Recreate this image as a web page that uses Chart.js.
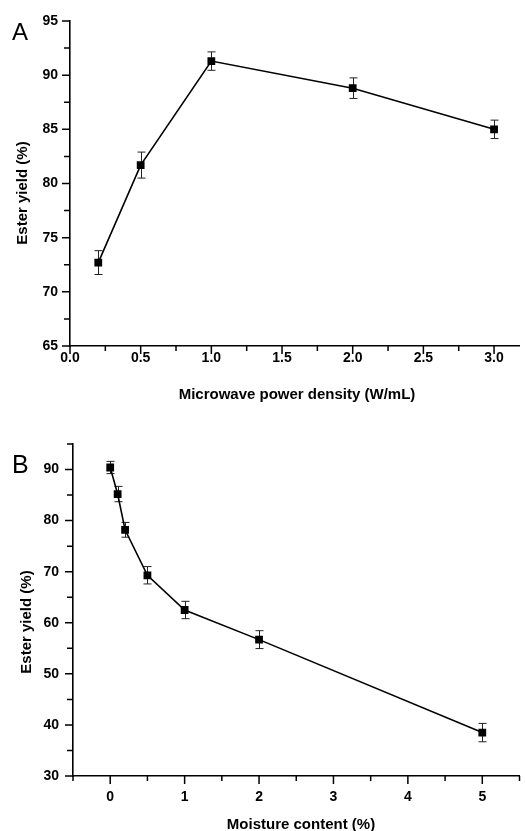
<!DOCTYPE html>
<html>
<head>
<meta charset="utf-8">
<script src="https://cdn.jsdelivr.net/npm/chart.js@4.4.1/dist/chart.umd.min.js"></script>
<style>
  html, body { margin: 0; padding: 0; background: #fff; }
  body { width: 525px; height: 831px; position: relative; overflow: hidden; }
  canvas { position: absolute; left: 0; }
  #cA { top: 0; }
  #cB { top: 410px; }
</style>
</head>
<body>
<canvas id="cA" width="525" height="410"></canvas>
<canvas id="cB" width="525" height="421"></canvas>
<script>
// ---------- Data ----------
// Panel A
const powerDensity = [0.2, 0.5, 1.0, 2.0, 3.0];
const yieldA = [72.7, 81.7, 91.3, 88.8, 85.0];
const errA = [1.1, 1.2, 0.85, 0.95, 0.85];
const xTicksA = [0.0, 0.5, 1.0, 1.5, 2.0, 2.5, 3.0];
const xTickLabelsA = ['0.0', '0.5', '1.0', '1.5', '2.0', '2.5', '3.0'];
const xMinorA = [0.25, 0.75, 1.25, 1.75, 2.25, 2.75];
const yTicksA = [65, 70, 75, 80, 85, 90, 95];
const yMinorA = [67.5, 72.5, 77.5, 82.5, 87.5, 92.5];

// Panel B
const moisture = [0, 0.1, 0.2, 0.5, 1, 2, 5];
const yieldB = [90.4, 85.2, 78.2, 69.3, 62.5, 56.7, 38.5];
const errB = [1.2, 1.5, 1.45, 1.7, 1.7, 1.75, 1.8];
const xTicksB = [0, 1, 2, 3, 4, 5];
const xTickLabelsB = ['0', '1', '2', '3', '4', '5'];
const xMinorB = [-0.5, 0.5, 1.5, 2.5, 3.5, 4.5, 5.5];
const yTicksB = [30, 40, 50, 60, 70, 80, 90];
const yMinorB = [35, 45, 55, 65, 75, 85, 95];

const FONT = '"Liberation Sans", Arial, Helvetica, sans-serif';
const tickFont = { family: FONT, size: 14, weight: 'bold' };

function errorBarPlugin(xs, ys, es) {
  return {
    id: 'errbars',
    beforeDatasetsDraw(chart) {
      const ctx = chart.ctx, sx = chart.scales.x, sy = chart.scales.y;
      ctx.save();
      ctx.strokeStyle = '#222';
      ctx.lineWidth = 1;
      for (let i = 0; i < xs.length; i++) {
        const px = Math.round(sx.getPixelForValue(xs[i])) + 0.5;
        const t = sy.getPixelForValue(ys[i] + es[i]);
        const b = sy.getPixelForValue(ys[i] - es[i]);
        ctx.beginPath();
        ctx.moveTo(px, t); ctx.lineTo(px, b);
        ctx.moveTo(px - 4, t); ctx.lineTo(px + 4, t);
        ctx.moveTo(px - 4, b); ctx.lineTo(px + 4, b);
        ctx.stroke();
      }
      ctx.restore();
    }
  };
}

function tickMarkPlugin(cfg) {
  return {
    id: 'tickmarks',
    afterDraw(chart) {
      const ctx = chart.ctx, sx = chart.scales.x, sy = chart.scales.y;
      const ca = chart.chartArea;
      ctx.save();
      ctx.strokeStyle = '#000';
      ctx.lineWidth = 1.5;
      ctx.beginPath();
      cfg.xMajor.forEach(v => { const p = sx.getPixelForValue(v); ctx.moveTo(p, ca.bottom); ctx.lineTo(p, ca.bottom + 8); });
      cfg.xMinor.forEach(v => { const p = sx.getPixelForValue(v); ctx.moveTo(p, ca.bottom); ctx.lineTo(p, ca.bottom + 5); });
      cfg.yMajor.forEach(v => { const p = sy.getPixelForValue(v); ctx.moveTo(ca.left, p); ctx.lineTo(ca.left - 8, p); });
      cfg.yMinor.forEach(v => { const p = sy.getPixelForValue(v); ctx.moveTo(ca.left, p); ctx.lineTo(ca.left - 6, p); });
      ctx.stroke();
      // axis titles and panel letter
      ctx.fillStyle = '#000';
      ctx.textAlign = 'center';
      ctx.textBaseline = 'middle';
      ctx.font = 'bold 15px ' + FONT;
      ctx.fillText(cfg.xTitle, cfg.xTitlePos[0], cfg.xTitlePos[1]);
      ctx.save();
      ctx.translate(cfg.yTitlePos[0], cfg.yTitlePos[1]);
      ctx.rotate(-Math.PI / 2);
      ctx.fillText(cfg.yTitle, 0, 0);
      ctx.restore();
      ctx.textAlign = 'left';
      ctx.textBaseline = 'alphabetic';
      ctx.font = cfg.letterSize + 'px ' + FONT;
      ctx.fillText(cfg.letter, cfg.letterPos[0], cfg.letterPos[1]);
      ctx.restore();
    }
  };
}

function makeChart(id, o) {
  return new Chart(document.getElementById(id), {
    type: 'line',
    data: {
      datasets: [{
        data: o.xs.map((x, i) => ({ x: x, y: o.ys[i] })),
        borderColor: '#000',
        backgroundColor: '#000',
        borderWidth: 1.6,
        pointStyle: 'rect',
        pointRadius: 5.5,
        pointBorderWidth: 0,
        pointBackgroundColor: '#000',
        tension: 0,
        fill: false
      }]
    },
    options: {
      responsive: false,
      animation: false,
      events: [],
      layout: { padding: o.padding },
      plugins: { legend: { display: false }, tooltip: { enabled: false } },
      scales: {
        x: {
          type: 'linear', min: o.xMin, max: o.xMax,
          afterBuildTicks: s => { s.ticks = o.xTicks.map(v => ({ value: v })); },
          afterFit: s => { s.height = o.xHeight; },
          grid: { display: false, drawOnChartArea: false, drawTicks: false },
          border: { display: true, color: '#000', width: 1.6 },
          ticks: { autoSkip: false, maxRotation: 0, padding: o.xPad, color: '#000', font: tickFont,
                   callback: (v, i) => o.xLabels[i] }
        },
        y: {
          type: 'linear', min: o.yMin, max: o.yMax,
          afterBuildTicks: s => { s.ticks = o.yTicks.map(v => ({ value: v })); },
          afterFit: s => { s.width = o.yWidth; },
          grid: { display: false, drawOnChartArea: false, drawTicks: false },
          border: { display: true, color: '#000', width: 1.6 },
          ticks: { autoSkip: false, padding: o.yPad, color: '#000', font: tickFont,
                   callback: v => String(v) }
        }
      }
    },
    plugins: [errorBarPlugin(o.xs, o.ys, o.es), tickMarkPlugin(o.tm)]
  });
}

makeChart('cA', {
  xs: powerDensity, ys: yieldA, es: errA,
  xMin: 0, xMax: 3.18, yMin: 65, yMax: 95,
  xTicks: xTicksA, xLabels: xTickLabelsA, yTicks: yTicksA,
  padding: { top: 21, right: 2, left: 0, bottom: 0 },
  xHeight: 64, yWidth: 70, xPad: 4, yPad: 12,
  tm: { xMajor: xTicksA, xMinor: xMinorA, yMajor: yTicksA, yMinor: yMinorA,
        xTitle: 'Microwave power density (W/mL)', xTitlePos: [297, 395],
        yTitle: 'Ester yield (%)', yTitlePos: [22.5, 193],
        letter: 'A', letterSize: 24, letterPos: [12, 39.5] }
});

makeChart('cB', {
  xs: moisture, ys: yieldB, es: errB,
  xMin: -0.5, xMax: 5.5, yMin: 30, yMax: 95,
  xTicks: xTicksB, xLabels: xTickLabelsB, yTicks: yTicksB,
  padding: { top: 34, right: 0, left: 0, bottom: 0 },
  xHeight: 55, yWidth: 73, xPad: 13, yPad: 14,
  tm: { xMajor: xTicksB, xMinor: xMinorB, yMajor: yTicksB, yMinor: yMinorB,
        xTitle: 'Moisture content (%)', xTitlePos: [301, 415],
        yTitle: 'Ester yield (%)', yTitlePos: [27, 212],
        letter: 'B', letterSize: 25, letterPos: [12, 62.5] }
});
</script>
</body>
</html>
